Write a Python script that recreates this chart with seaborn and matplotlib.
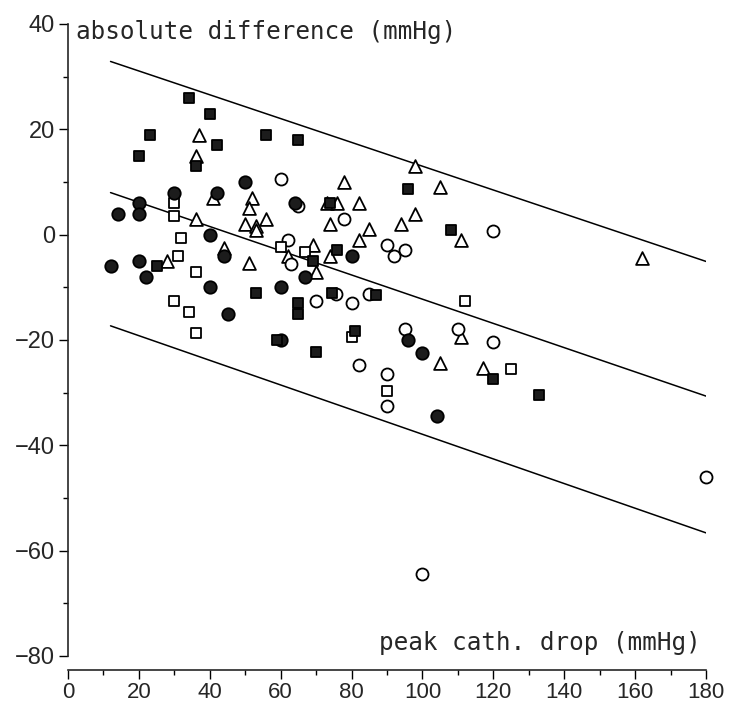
import matplotlib
matplotlib.use("Agg")
import matplotlib.pyplot as plt
import seaborn as sns
import numpy as np
import pandas as pd
from matplotlib.ticker import MultipleLocator

# ---- data ----
filled_circle_x = [12, 14, 20, 20, 20, 22, 30, 40, 42, 40, 44, 45, 50, 64, 80, 67, 60, 60, 96, 100, 104]
filled_circle_y = [-6, 4, 6, 4, -5, -8, 8, 0, 8, -10, -4, -15, 10, 6, -4, -8, -10, -20, -20, -22.4, -34.5]

filled_square_x = [34, 40, 23, 42, 20, 36, 56, 65, 96, 108, 25, 53, 65, 65, 74.5, 87, 81, 70, 69, 76, 120, 133, 59, 74]
filled_square_y = [26, 23, 19, 17, 15, 13, 19, 18, 8.7, 0.8, -6, -11, -13, -15, -11, -11.4, -18.3, -22.2, -5, -3, -27.4, -30.4, -20, 6]

open_triangle_x = [37, 36, 41, 36, 44, 28, 78, 52, 51, 82, 56, 50, 53, 53, 74, 85, 82, 69, 98, 105, 98, 94, 111,
                   62, 74, 70, 51, 111, 105, 117, 162, 73, 76]
open_triangle_y = [19, 15, 7, 3, -2.5, -5, 10, 7, 5, 6, 3, 2, 1.7, 0.8, 2, 1, -1, -2, 13, 9, 4, 2, -1,
                   -4, -4, -7, -5.3, -19.4, -24.3, -25.4, -4.4, 6, 6]

open_circle_x = [60, 65, 78, 90, 92, 95, 120, 62, 63, 70, 75.5, 80, 85, 95, 110, 120, 82, 90, 90, 100, 180]
open_circle_y = [10.5, 5.5, 3, -2, -4, -3, 0.7, -1, -5.5, -12.5, -11.2, -13, -11.3, -18, -18, -20.3, -24.7, -26.4,
                 -32.5, -64.5, -46]

open_square_x = [30, 30, 32, 31, 36, 30, 34, 36, 60, 67, 112, 80, 90, 125]
open_square_y = [6, 3.6, -0.6, -4, -7, -12.5, -14.6, -18.6, -2.3, -3.2, -12.5, -19.4, -29.6, -25.5]

# fitted line and limits: intercepts and slopes
line_x = [12, 180]
line_intercepts = [35.6, 10.75, -14.5]
line_slopes = [-0.226, -0.230, -0.234]

x_ticks = [0, 20, 40, 60, 80, 100, 120, 140, 160, 180]
y_ticks = [-80, -60, -40, -20, 0, 20, 40]

y_label = "absolute difference (mmHg)"
x_label = "peak cath. drop (mmHg)"

# ---- figure ----
sns.set_style("ticks")
plt.rcParams['font.family'] = ['Liberation Sans', 'DejaVu Sans']

fig = plt.figure(figsize=(7.29, 7.03), dpi=100)
ax = fig.add_axes([68 / 729, 1 - 656 / 703, 638 / 729, 632 / 703])

for b, m in zip(line_intercepts, line_slopes):
    xs = np.array(line_x, dtype=float)
    sns.lineplot(x=xs, y=b + m * xs, ax=ax, color='black', linewidth=1.1, zorder=1)

def scatter(xv, yv, marker, size, face):
    df = pd.DataFrame({'x': xv, 'y': yv})
    sns.scatterplot(data=df, x='x', y='y', ax=ax, marker=marker, s=size,
                    facecolor=face, edgecolor='black', linewidth=1.3,
                    clip_on=False, zorder=3 if face != 'white' else 2, legend=False)

scatter(open_triangle_x, open_triangle_y, '^', 85, 'white')
scatter(open_circle_x, open_circle_y, 'o', 75, 'white')
scatter(open_square_x, open_square_y, 's', 55, 'white')
scatter(filled_circle_x, filled_circle_y, 'o', 80, '#1c1c1c')
scatter(filled_square_x, filled_square_y, 's', 60, '#1c1c1c')

ax.set_xlim(0, 180)
ax.set_ylim(-80, 40)
ax.set_xticks(x_ticks)
ax.set_yticks(y_ticks)
ax.xaxis.set_minor_locator(MultipleLocator(10))
ax.yaxis.set_minor_locator(MultipleLocator(10))
ax.set_xlabel('')
ax.set_ylabel('')

sns.despine(ax=ax)
ax.spines['bottom'].set_position(('outward', 10))
ax.spines['left'].set_linewidth(1.2)
ax.spines['bottom'].set_linewidth(1.2)
ax.tick_params(axis='both', which='major', length=6.5, width=1.0, color='black')
ax.tick_params(axis='both', which='minor', length=3.5, width=1.0, color='black')
ax.tick_params(axis='y', which='major', pad=3, labelsize=17)
ax.tick_params(axis='x', which='major', pad=2, labelsize=16)

ax.text(2.3, 37.2, y_label, fontsize=17.5, family='DejaVu Sans Mono', va='baseline', ha='left')
ax.text(178.5, -78.9, x_label, fontsize=17.5, family='DejaVu Sans Mono', va='baseline', ha='right')

fig.savefig('out.png', dpi=100)
